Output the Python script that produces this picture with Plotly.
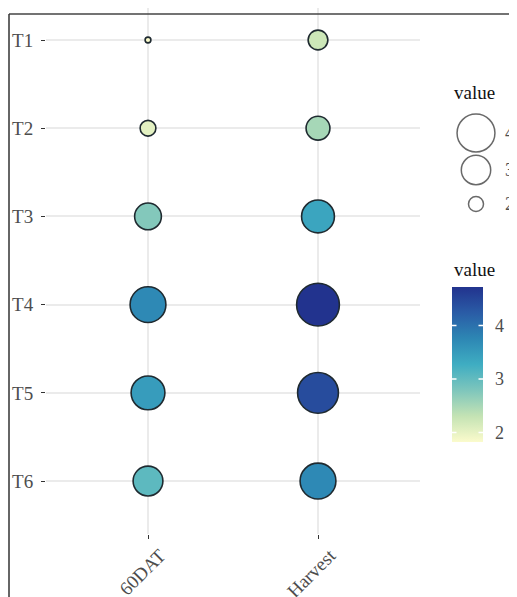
import plotly.graph_objects as go

# ---------------- data ----------------
treatments = ["T1", "T2", "T3", "T4", "T5", "T6"]
stages = ["60DAT", "Harvest"]
val_60dat = [1.82, 2.03, 2.75, 3.73, 3.48, 3.04]
val_harvest = [2.23, 2.51, 3.37, 4.72, 4.42, 3.73]
size_breaks = [4, 3, 2]
color_ticks = [2, 3, 4]

# ---------------- layout helpers ----------------
OFF = 8                 # page body margin of the browser
W, H = 517 - OFF, 597 - OFF
ML = 46 - OFF
PANEL_B = 534 - OFF
MB = H - PANEL_B
PW = W - ML
PH = PANEL_B


def px_x(px):  # px measured on the final screenshot
    return (px - OFF - ML) / PW


def px_y(py):
    return (PH - (py - OFF)) / PH


xs, ys, vs = [], [], []
for i, t in enumerate(treatments):
    for s, arr in zip(stages, [val_60dat, val_harvest]):
        xs.append(s)
        ys.append(t)
        vs.append(arr[i])

vmin, vmax = min(vs), max(vs)
DMIN, DMAX = 7, 44


def size_scale(v):
    r = (v - vmin) / (vmax - vmin)
    r = max(r, 0)
    return DMIN + (DMAX - DMIN) * r ** 0.5 - 1.2


colorscale = [
    [0.0, "#fbfbcc"], [1 / 6, "#c4e3b4"], [2 / 6, "#7ec6bc"], [3 / 6, "#3fadc2"],
    [4 / 6, "#2d87b4"], [5 / 6, "#2a5ca6"], [1.0, "#22338e"],
]

FONT = "Liberation Serif"
AXCOL = "#4d4d4d"

CB_X0, CB_W = 452, 31
CB_TOP, CB_BOT = 287, 442

fig = go.Figure()
fig.add_trace(go.Scatter(
    x=xs, y=ys, mode="markers",
    marker=dict(
        size=[size_scale(v) for v in vs],
        color=vs, cmin=vmin, cmax=vmax, colorscale=colorscale,
        line=dict(color="#1f2a30", width=1.6),
        opacity=1,
        showscale=True,
        colorbar=dict(
            x=px_x(CB_X0), xanchor="left",
            y=px_y((CB_TOP + CB_BOT) / 2), yanchor="middle",
            len=CB_BOT - CB_TOP, lenmode="pixels", thickness=CB_W,
            thicknessmode="pixels",
            outlinewidth=0, tickvals=color_ticks, ticks="outside", ticklen=9,
            tickcolor="rgba(0,0,0,0)", tickwidth=1,
            tickfont=dict(family=FONT, size=18, color=AXCOL),
            ticklabelposition="outside", xpad=0, ypad=0,
        ),
    ),
    showlegend=False, hoverinfo="x+y+text", text=[f"{v:.2f}" for v in vs],
))

# size legend (manual, on an overlay axis positioned in right margin)
LEG_X0 = 452
leg_y = [133, 170, 204]
fig.add_trace(go.Scatter(
    x=[476 - LEG_X0] * len(size_breaks), y=[y - OFF for y in leg_y], mode="markers",
    marker=dict(size=[size_scale(b) for b in size_breaks], color="white",
                line=dict(color="#2b2b2b", width=1.5)),
    xaxis="x2", yaxis="y2", showlegend=False, hoverinfo="skip",
))

annotations = []
for b, yy in zip(size_breaks, leg_y):
    annotations.append(dict(x=503 - LEG_X0, y=yy - OFF, xref="x2", yref="y2", text=str(b),
                            showarrow=False, xanchor="left", yanchor="middle",
                            font=dict(family=FONT, size=18, color=AXCOL)))
annotations.append(dict(x=px_x(452), y=px_y(92), xref="paper", yref="paper",
                        text="value", showarrow=False, xanchor="left", yanchor="middle",
                        font=dict(family=FONT, size=19, color="#111")))
annotations.append(dict(x=px_x(452), y=px_y(269), xref="paper", yref="paper",
                        text="value", showarrow=False, xanchor="left", yanchor="middle",
                        font=dict(family=FONT, size=19, color="#111")))
# white colourbar ticks on both sides, like ggplot's guide_colourbar
for tv in color_ticks:
    ty = CB_BOT - (tv - vmin) / (vmax - vmin) * (CB_BOT - CB_TOP)
    for xa, dx in [(CB_X0, 6), (CB_X0 + CB_W, -6)]:
        annotations.append(dict(x=px_x(xa), y=px_y(ty), xref="paper", yref="paper",
                                text="", showarrow=True, arrowhead=0, ax=dx, ay=0,
                                arrowwidth=1.5, arrowcolor="white",
                                standoff=0, startstandoff=0))

shapes = [
    dict(type="line", xref="paper", yref="paper", x0=px_x(9), x1=px_x(520),
         y0=px_y(14), y1=px_y(14), line=dict(color="#444", width=1.5)),
    dict(type="line", xref="paper", yref="paper", x0=px_x(9), x1=px_x(9),
         y0=px_y(14), y1=px_y(600), line=dict(color="#333", width=1.5)),
]

fig.update_layout(
    template="none",
    width=W, height=H,
    margin=dict(l=ML, r=0, t=0, b=MB, pad=0),
    paper_bgcolor="white", plot_bgcolor="white",
    font=dict(family=FONT, color=AXCOL),
    xaxis=dict(
        domain=[0, px_x(420)], type="category", categoryarray=stages,
        range=[-0.6, 1.6], showgrid=True, gridcolor="#ebebeb", gridwidth=1.6,
        zeroline=False, showline=False, ticks="outside", ticklen=4,
        tickcolor="#333", tickwidth=1.2, tickangle=-45,
        ticklabelshift=12, ticklabelstandoff=-2,
        tickfont=dict(family=FONT, size=19, color=AXCOL), automargin=False,
        fixedrange=True,
    ),
    yaxis=dict(
        domain=[0, 1], type="category", categoryarray=treatments,
        range=[5.6, -0.4535 + OFF / 88.2], showgrid=True, gridcolor="#ebebeb",
        gridwidth=1.6, zeroline=False, showline=False, ticks="outside", ticklen=4,
        tickcolor="#333", tickwidth=1.2, ticklabelstandoff=4,
        tickfont=dict(family=FONT, size=19, color=AXCOL), automargin=False,
        fixedrange=True,
    ),
    xaxis2=dict(domain=[px_x(LEG_X0), 1], range=[0, 517 - LEG_X0], visible=False,
                fixedrange=True, anchor="y2"),
    yaxis2=dict(domain=[0, 1], range=[PH, 0], visible=False, fixedrange=True,
                anchor="x2"),
    annotations=annotations,
    shapes=shapes,
)

fig.write_html("out.html")
